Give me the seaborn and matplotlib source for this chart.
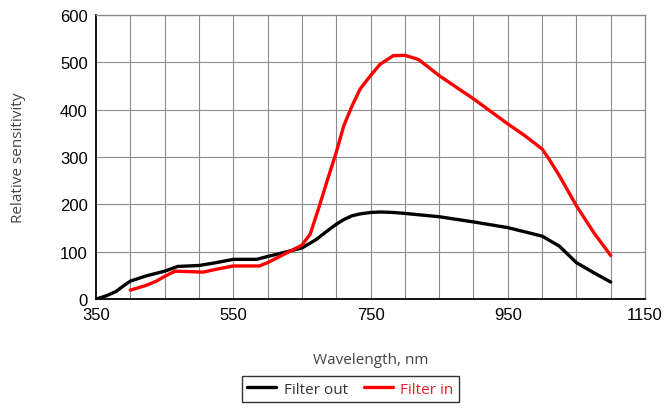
import matplotlib
matplotlib.use("Agg")
import matplotlib.pyplot as plt
import seaborn as sns
import pandas as pd

# Spectral sensitivity, camera without / with the IR-cut filter removed
wl_out = [350, 365, 379, 390, 400, 423, 450, 469, 500, 525, 550, 584, 600,
          628, 650, 671, 686, 700, 711, 723, 735, 750, 765, 783, 800, 850, 900,
          950, 1000, 1025, 1050, 1075, 1100]
sens_out = [0, 7, 16, 28, 38, 49, 59, 69, 71, 77, 84, 84, 90,
            100, 108, 126, 143, 158, 168, 176, 180, 183, 184, 183, 181, 174, 163,
            151, 133, 112, 77, 56, 36]

wl_in = [400, 423, 438, 450, 465, 486, 506, 525, 550, 569, 588, 600, 623, 650,
         662, 674, 686, 700, 711, 723, 735, 750, 764, 783, 800, 820, 850, 900,
         950, 975, 1000, 1010, 1025, 1050, 1075, 1100]
sens_in = [19, 29, 38, 48, 59, 58, 57, 63, 70, 70, 70, 77, 94, 114,
           137, 190, 246, 310, 366, 408, 444, 472, 496, 514, 515, 506, 472, 423,
           370, 345, 317, 296, 261, 197, 141, 92]

series_names = ["Filter out", "Filter in"]
series_colors = ["#000000", "#ff0000"]
x_ticks = [350, 550, 750, 950, 1150]
y_ticks = [0, 100, 200, 300, 400, 500, 600]

df = pd.concat([
    pd.DataFrame({"Wavelength": wl_out, "Sensitivity": sens_out, "Series": series_names[0]}),
    pd.DataFrame({"Wavelength": wl_in, "Sensitivity": sens_in, "Series": series_names[1]}),
], ignore_index=True)

sns.set_style("white")
plt.rcParams["font.family"] = ["Liberation Sans", "DejaVu Sans"]

fig = plt.figure(figsize=(6.65, 4.10), dpi=100)
ax = fig.add_axes([0.1444, 0.268, 0.8256, 0.693])

for x in range(400, 1150, 50):
    ax.axvline(x, color="#8c8c8c", lw=0.8, zorder=0)
for y in range(100, 600, 100):
    ax.axhline(y, color="#8c8c8c", lw=0.8, zorder=0)

sns.lineplot(data=df, x="Wavelength", y="Sensitivity", hue="Series",
             hue_order=series_names, palette=series_colors, lw=2.4,
             sort=False, estimator=None, ax=ax, legend=False)
for line in ax.get_lines():
    line.set_solid_joinstyle("round")
    line.set_solid_capstyle("round")

ax.set_xlim(350, 1150)
ax.set_ylim(0, 600)
ax.set_xticks(x_ticks)
ax.set_yticks(y_ticks)
ax.tick_params(axis="both", length=0, labelsize=12, colors="#000000", pad=6)

for side in ["top", "right"]:
    ax.spines[side].set_color("#8c8c8c")
    ax.spines[side].set_linewidth(1.0)
for side in ["left", "bottom"]:
    ax.spines[side].set_color("#000000")
    ax.spines[side].set_linewidth(1.3)

label_font = dict(family=["Open Sans", "DejaVu Sans"], size=11, color="#444444")
ax.set_xlabel("Wavelength, nm", labelpad=21, **label_font)
ax.set_ylabel("Relative sensitivity", labelpad=24, **label_font)

handles = [plt.Line2D([], [], color=c, lw=2.4) for c in series_colors]
leg = fig.legend(handles, series_names, loc="center", bbox_to_anchor=(0.527, 0.048),
                 ncol=2, frameon=True, fancybox=False, edgecolor="#000000",
                 handlelength=1.9, handletextpad=0.5, columnspacing=1.0,
                 borderpad=0.35, prop={"family": ["Open Sans", "DejaVu Sans"], "size": 11})
leg.get_frame().set_linewidth(1.0)
for txt, c in zip(leg.get_texts(), ["#333333", "#e8202a"]):
    txt.set_color(c)

fig.savefig("out.png", dpi=100)
